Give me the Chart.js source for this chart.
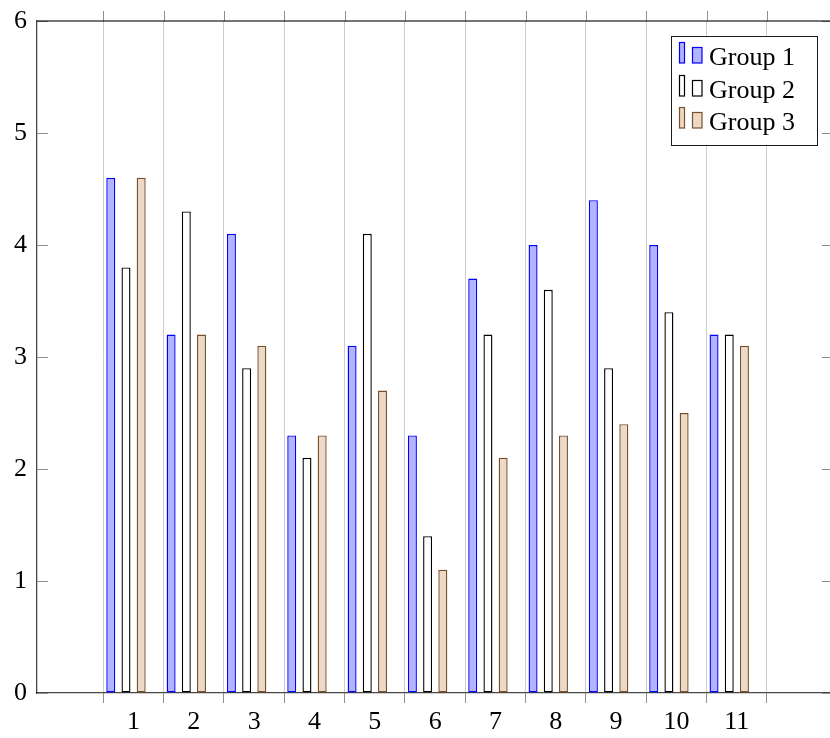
<!DOCTYPE html>
<html>
<head>
<meta charset="utf-8">
<script src="https://cdn.jsdelivr.net/npm/chart.js@4"></script>
<style>
  html, body { margin: 0; padding: 0; background: #fff; overflow: hidden; }
  #wrap { position: relative; width: 840px; height: 738px; }
</style>
</head>
<body>
<div id="wrap"><canvas id="chart"></canvas></div>
<script>
// Categories along the x axis
const categories = ['1', '2', '3', '4', '5', '6', '7', '8', '9', '10', '11'];

// Series values
const group1 = [4.6, 3.2, 4.1, 2.3, 3.1, 2.3, 3.7, 4.0, 4.4, 4.0, 3.2];
const group2 = [3.8, 4.3, 2.9, 2.1, 4.1, 1.4, 3.2, 3.6, 2.9, 3.4, 3.2];
const group3 = [4.6, 3.2, 3.1, 2.3, 2.7, 1.1, 2.1, 2.3, 2.4, 2.5, 3.1];
const seriesNames = ['Group 1', 'Group 2', 'Group 3'];

// Tick labels on the value axis
const yTicks = [0, 1, 2, 3, 4, 5, 6];

const FONT = { family: "'Liberation Serif', 'Times New Roman', serif", size: 26 };
const FONT_CSS = "26px 'Liberation Serif', 'Times New Roman', serif";
const FRAME = 'rgba(0,0,0,0.72)';
const TICK = '#8f8f8f';

// Grid lines sit between categories, slightly right of each bar group
const GRID_SHIFT = -0.376;

const toPoints = arr => arr.map((v, i) => ({ x: i + 1, y: v }));

const styles = [
  { bg: 'rgb(179,179,255)', border: 'rgb(0,0,255)' },
  { bg: '#ffffff', border: '#000000' },
  { bg: 'rgb(236,217,198)', border: 'rgb(120,80,42)' }
];

const datasets = [group1, group2, group3].map((arr, i) => ({
  label: seriesNames[i],
  data: toPoints(arr),
  backgroundColor: styles[i].bg,
  borderColor: styles[i].border,
  borderWidth: 1.4,
  borderSkipped: false,
  categoryPercentage: 0.756,
  barPercentage: 0.592
}));

// Frame lines, inward y ticks, outward top x ticks
const framePlugin = {
  id: 'frame',
  afterDatasetsDraw(chart) {
    const { ctx, chartArea: a, scales } = chart;
    ctx.save();
    // y ticks pointing into the plot on both sides
    ctx.strokeStyle = TICK;
    ctx.lineWidth = 1;
    scales.y.ticks.forEach(t => {
      const y = Math.round(scales.y.getPixelForValue(t.value)) + 0.5;
      ctx.beginPath();
      ctx.moveTo(a.left, y); ctx.lineTo(a.left + 11, y);
      ctx.moveTo(a.right, y); ctx.lineTo(a.right - 11, y);
      ctx.stroke();
    });
    // x ticks above the top edge
    scales.x.ticks.forEach((t, i) => {
      const x = Math.round(scales.x.getPixelForTick(i)) + 0.5;
      ctx.beginPath();
      ctx.moveTo(x, a.top); ctx.lineTo(x, a.top - 10);
      ctx.stroke();
    });
    // top and right edges of the frame
    ctx.strokeStyle = FRAME;
    ctx.lineWidth = 1.3;
    ctx.beginPath();
    ctx.moveTo(a.left, a.top); ctx.lineTo(a.right, a.top); ctx.lineTo(a.right, a.bottom);
    ctx.stroke();
    ctx.restore();
  }
};

// Legend box in the upper right corner of the plot
const legendPlugin = {
  id: 'boxLegend',
  afterDraw(chart) {
    const { ctx, chartArea: a } = chart;
    const right = a.right - 16, top = a.top + 15;
    const w = 146, h = 109, left = right - w;
    const rowH = 32.7;
    ctx.save();
    ctx.fillStyle = '#fff';
    ctx.fillRect(left, top, w, h);
    ctx.strokeStyle = '#1a1a1a';
    ctx.lineWidth = 1;
    ctx.strokeRect(Math.round(left) + 0.5, Math.round(top) + 0.5, w, h);
    chart.data.datasets.forEach((ds, i) => {
      const dy = Math.round(top + i * rowH);
      ctx.fillStyle = ds.backgroundColor;
      ctx.strokeStyle = ds.borderColor;
      ctx.lineWidth = 1.2;
      ctx.fillRect(left + 8, dy + 6, 5, 21);
      ctx.strokeRect(left + 8.5, dy + 6.5, 5, 20.5);
      ctx.fillRect(left + 21, dy + 11, 10, 16);
      ctx.strokeRect(left + 21.5, dy + 11.5, 9.5, 15.5);
      ctx.fillStyle = '#000';
      ctx.font = FONT_CSS;
      ctx.textBaseline = 'alphabetic';
      ctx.textAlign = 'left';
      ctx.fillText(ds.label, left + 38, dy + 29);
    });
    ctx.restore();
  }
};

new Chart(document.getElementById('chart'), {
  type: 'bar',
  data: { datasets },
  options: {
    responsive: true,
    maintainAspectRatio: false,
    animation: false,
    devicePixelRatio: 1,
    layout: { padding: { top: 21, right: 7, left: 0, bottom: 0 } },
    plugins: { legend: { display: false }, tooltip: { enabled: false } },
    scales: {
      x: {
        type: 'linear',
        offset: false,
        min: -0.475,
        max: 12.72,
        afterBuildTicks: s => {
          s.ticks = categories.concat(['']).map((c, i) => ({ value: i + 1 + GRID_SHIFT }));
        },
        ticks: {
          callback: (v, i) => (i < categories.length ? categories[i] : ''),
          labelOffset: 30.2,
          autoSkip: false,
          maxRotation: 0,
          font: FONT,
          color: '#000',
          padding: 4
        },
        grid: {
          offset: false,
          color: '#cdcdcd',
          lineWidth: 1,
          drawTicks: true,
          tickLength: 10,
          tickColor: TICK
        },
        border: { color: FRAME, width: 1.3 },
        afterFit: s => { s.height = 45; s.paddingLeft = 0; s.paddingRight = 0; }
      },
      y: {
        min: 0,
        max: 6,
        afterBuildTicks: s => { s.ticks = yTicks.map(v => ({ value: v })); },
        ticks: { font: FONT, color: '#000', padding: 10 },
        grid: { display: true, drawOnChartArea: false, drawTicks: false },
        border: { color: FRAME, width: 1.3 },
        afterFit: s => { s.width = 37; s.paddingTop = 0; s.paddingBottom = 0; }
      }
    }
  },
  plugins: [framePlugin, legendPlugin]
});
</script>
</body>
</html>
